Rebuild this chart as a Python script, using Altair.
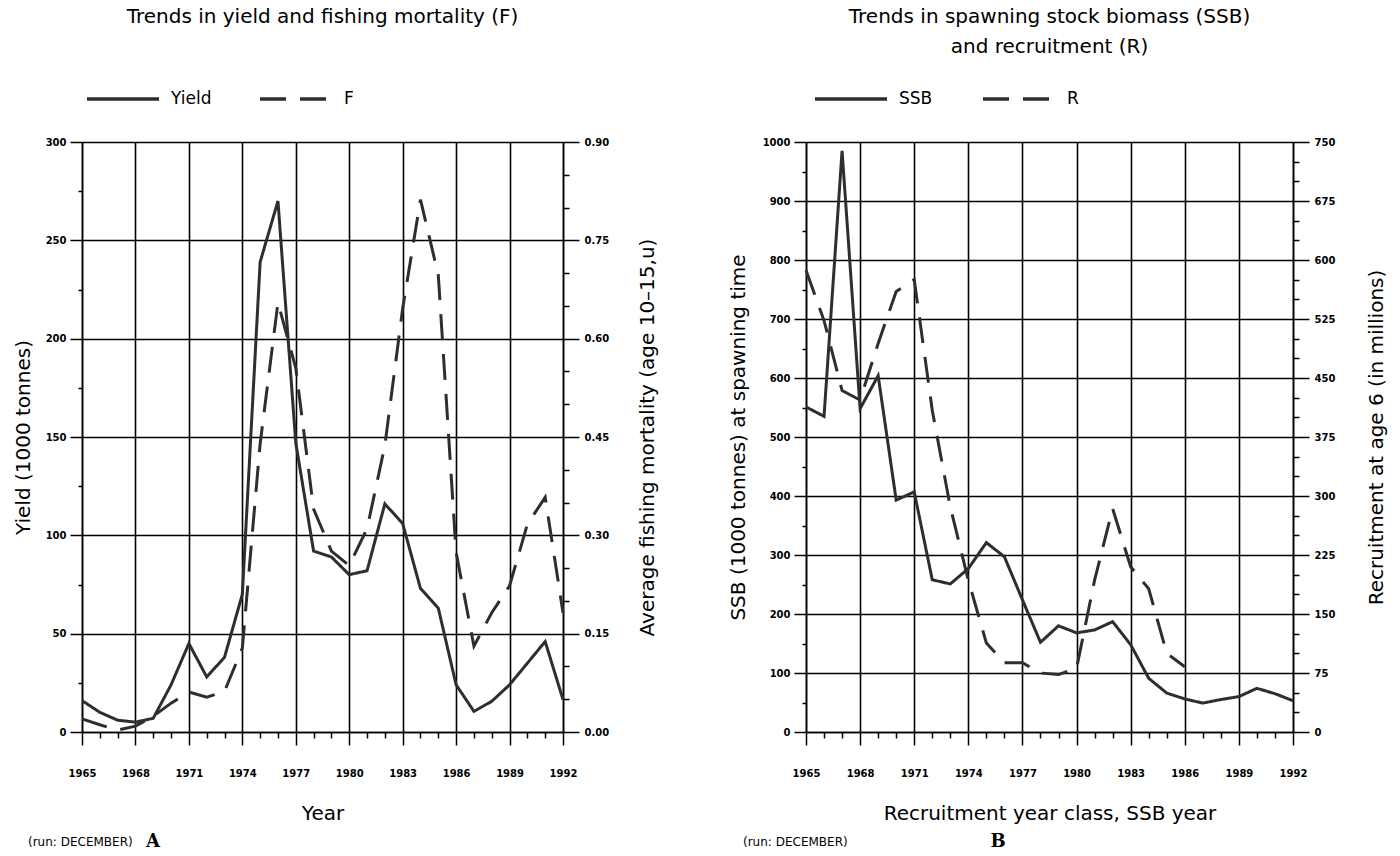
import altair as alt
import pandas as pd

# ---------------- data ----------------
years = list(range(1965, 1993))
yield_kt = [16, 10, 6, 5, 7, 24, 45, 28, 38, 70,
            239, 270, 147, 92, 89, 80, 82, 116, 106, 73,
            63, 24, 10.5, 15.6, 24, 35, 46, 16.5]
fbar = [0.020, 0.011, 0.003, 0.009, 0.024, 0.044, 0.061, 0.053, 0.062, 0.128,
        0.440, 0.655, 0.555, 0.340, 0.276, 0.254, 0.310, 0.437, 0.646, 0.812,
        0.697, 0.274, 0.131, 0.182, 0.223, 0.317, 0.358, 0.182]
ssb = [551, 535, 985, 548, 604, 393, 407, 258, 251, 277,
       321, 297, 224, 152, 180, 168, 173, 187, 148, 91,
       66, 56, 49, 55, 60, 74, 65, 53]
rec_years = list(range(1965, 1987))
recruits = [587, 523, 434, 422, 494, 560, 575, 409, 286, 193,
            113, 88, 88, 75, 73, 81, 193, 284, 210, 182,
            100, 83]

# axis tick values (minor + major)
yield_ticks = list(range(0, 301, 25))
f_ticks = [round(0.05 * i, 2) for i in range(19)]
ssb_ticks = list(range(0, 1001, 50))
rec_ticks = list(range(0, 751, 25))

left_title = "Trends in yield and fishing mortality (F)"
right_title = ["Trends in spawning stock biomass (SSB)", "and recruitment (R)"]
run_note = "(run: DECEMBER)"

FONT = "DejaVu Sans"
INK = "#2e2e2e"
W_L, W_R, H = 481, 487, 590

df_y = pd.DataFrame({"year": years, "value": yield_kt, "series": "Yield"})
df_f = pd.DataFrame({"year": years, "value": fbar, "series": "F"})
df_s = pd.DataFrame({"year": years, "value": ssb, "series": "SSB"})
df_r = pd.DataFrame({"year": rec_years, "value": recruits, "series": "R"})


def cond(test, a, b):
    return {"condition": {"test": test, "value": a}, "value": b}


def year_axis(title):
    major = "(datum.value - 1965) % 3 === 0"
    return alt.Axis(title=title, values=years, tickCount=len(years), format="d",
                    labelExpr=f"{major} ? datum.label : ''",
                    grid=True, gridOpacity=cond(major, 1, 0),
                    tickSize=cond(major, 13, 6),
                    labelPadding=23, titlePadding=25,
                    labelOverlap=False, labelFlush=False)


def val_axis(title, values, major, orient, big, small, lab_pad, title_pad,
             grid=True, fmt="d"):
    kw = dict(title=title, values=values, tickCount=len(values), orient=orient,
              labelExpr=f"{major} ? datum.label : ''", format=fmt,
              grid=grid, tickSize=cond(major, big, small),
              labelPadding=lab_pad, titlePadding=title_pad,
              labelOverlap=False, labelFlush=False)
    if grid:
        kw["gridOpacity"] = cond(major, 1, 0)
    if orient == "right":
        kw["titleAngle"] = 270
        kw["titleBaseline"] = "top"
    return alt.Axis(**kw)


def dash_enc(domain, legend_x, col_pad):
    return alt.StrokeDash(
        "series:N",
        scale=alt.Scale(domain=domain, range=[[1, 0], [26, 14]]),
        legend=alt.Legend(title=None, orient="none", direction="horizontal",
                          legendX=legend_x, legendY=-81,
                          symbolType="stroke", symbolSize=5184,
                          symbolStrokeWidth=3.5, symbolStrokeColor=INK,
                          labelFont=FONT, labelFontSize=17, labelColor="black",
                          labelOffset=10, columnPadding=col_pad))


def note_layers(x_note, x_letter, letter):
    note = alt.Chart(pd.DataFrame({"t": [run_note]})).mark_text(
        font=FONT, fontSize=12, align="left", baseline="middle", color="black"
    ).encode(text="t:N", x=alt.value(x_note), y=alt.value(700))
    let = alt.Chart(pd.DataFrame({"t": [letter]})).mark_text(
        font="DejaVu Serif", fontSize=18, fontWeight="bold", align="center",
        baseline="middle", color="black"
    ).encode(text="t:N", x=alt.value(x_letter), y=alt.value(700))
    return note, let


xs = alt.Scale(domain=[1965, 1992], nice=False, zero=False)

# ---------------- left panel ----------------
yield_line = alt.Chart(df_y).mark_line(color=INK, strokeWidth=3, strokeJoin="miter").encode(
    x=alt.X("year:Q", scale=xs, axis=year_axis("Year")),
    y=alt.Y("value:Q", scale=alt.Scale(domain=[0, 300], nice=False),
            axis=val_axis("Yield (1000 tonnes)", yield_ticks, "datum.value % 50 === 0",
                          "left", 12, 4, 4, 12)),
    strokeDash=dash_enc(["Yield", "F"], 3, 41),
)
f_line = alt.Chart(df_f).mark_line(color=INK, strokeWidth=3, strokeJoin="miter").encode(
    x=alt.X("year:Q", scale=xs),
    y=alt.Y("value:Q", scale=alt.Scale(domain=[0, 0.9], nice=False),
            axis=val_axis("Average fishing mortality (age 10\u201315,u)", f_ticks,
                          "abs(datum.value / 0.15 - round(datum.value / 0.15)) < 0.001",
                          "right", 16, 6, 5, 29, grid=False, fmt=".2f")),
    strokeDash=dash_enc(["Yield", "F"], 3, 41),
)
nA, lA = note_layers(-54, 71, "A")
left = alt.layer(yield_line, f_line, nA, lA).resolve_scale(y="independent").properties(
    width=W_L, height=H,
    title=alt.TitleParams(left_title, font=FONT, fontSize=20, fontWeight="normal",
                          color="black", anchor="middle", frame="group", offset=34),
)

# ---------------- right panel ----------------
ssb_line = alt.Chart(df_s).mark_line(color=INK, strokeWidth=3, strokeJoin="miter").encode(
    x=alt.X("year:Q", scale=xs, axis=year_axis("Recruitment year class, SSB year")),
    y=alt.Y("value:Q", scale=alt.Scale(domain=[0, 1000], nice=False),
            axis=val_axis("SSB (1000 tonnes) at spawning time", ssb_ticks,
                          "datum.value % 100 === 0", "left", 12, 4, 4, 14)),
    strokeDash=dash_enc(["SSB", "R"], 7, 43),
)
r_line = alt.Chart(df_r).mark_line(color=INK, strokeWidth=3, strokeJoin="miter").encode(
    x=alt.X("year:Q", scale=xs),
    y=alt.Y("value:Q", scale=alt.Scale(domain=[0, 750], nice=False),
            axis=val_axis("Recruitment at age 6 (in millions)", rec_ticks,
                          "datum.value % 75 === 0", "right", 16, 6, 5, 32, grid=False)),
    strokeDash=dash_enc(["SSB", "R"], 7, 43),
)
nB, lB = note_layers(-63, 192, "B")
right = alt.layer(ssb_line, r_line, nB, lB).resolve_scale(y="independent").properties(
    width=W_R, height=H,
    title=alt.TitleParams(right_title, font=FONT, fontSize=20, fontWeight="normal",
                          color="black", anchor="middle", frame="group", offset=4,
                          lineHeight=30),
)

chart = alt.hconcat(left, right, spacing=243, bounds="flush").resolve_scale(
    x="independent", y="independent", strokeDash="independent"
).resolve_legend(strokeDash="independent").properties(
    padding={"left": 12, "top": 6, "right": 4, "bottom": 4},
    background="white",
).configure_view(stroke="transparent").configure_axis(
    labelFont=FONT, labelFontSize=10, labelFontWeight="bold", labelColor="black",
    titleFont=FONT, titleFontSize=20, titleFontWeight="normal", titleColor="black",
    domainColor="black", domainWidth=1.5, tickColor="black", tickWidth=1.5,
    gridColor="black", gridWidth=1.6,
)

chart.save("out.html", embed_options={"renderer": "svg", "actions": False})
